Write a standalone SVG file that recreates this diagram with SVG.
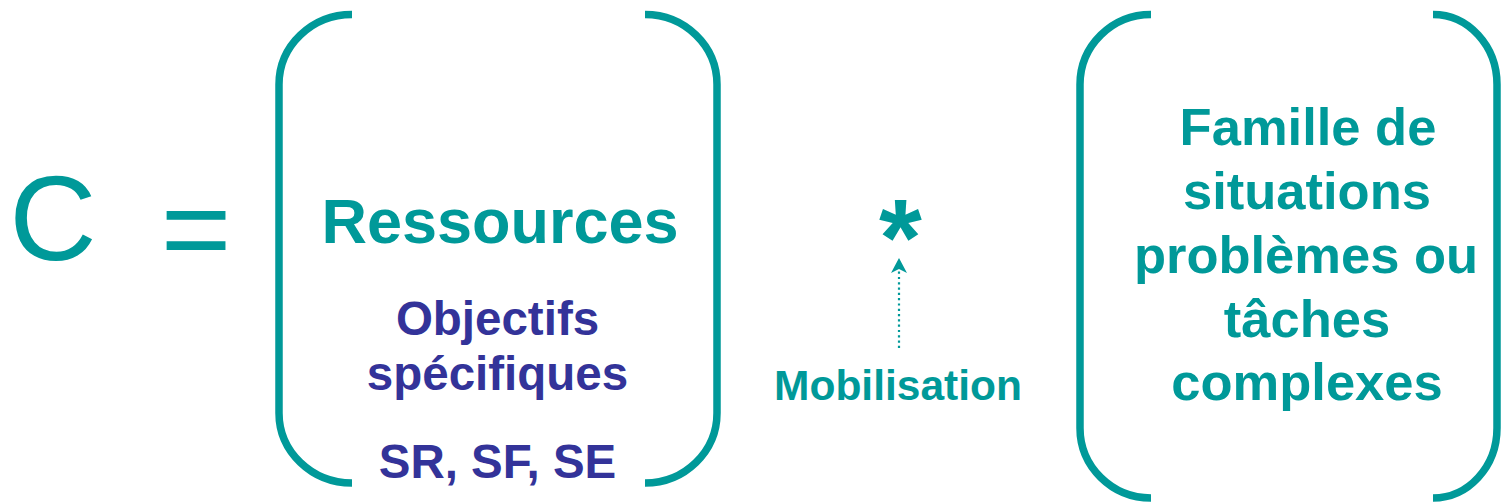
<svg xmlns="http://www.w3.org/2000/svg" width="1502" height="502" viewBox="0 0 1502 502">
  <defs>
    <style>
      .teal { fill: #009999; }
      .blue { fill: #333399; }
      .t { font-family: "Liberation Sans", Arial, sans-serif; text-anchor: middle; }
      .b { font-weight: bold; }
      .brk { fill: none; stroke: #009999; stroke-width: 7.5; }
    </style>
    <marker id="arr" viewBox="0 0 15 16" refX="14" refY="8" markerWidth="15" markerHeight="16" markerUnits="userSpaceOnUse" orient="auto">
      <path d="M15,8 L0,0 L4,8 L0,16 Z" fill="#009999"/>
    </marker>
  </defs>
  <rect width="1502" height="502" fill="#ffffff"/>

  <g id="formula">
    <text class="t teal" x="53" y="260" font-size="121">C</text>
    <text class="t teal" x="196" y="270" font-size="121">=</text>
  </g>

  <g id="ressources">
    <path class="brk" d="M352,14.5 A73,70 0 0 0 279,84.5 L279,413 A73,70 0 0 0 352,483"/>
    <path class="brk" d="M645,14.5 A72,70 0 0 1 717,84.5 L717,413 A72,70 0 0 1 645,483"/>
    <text class="t b teal" x="500" y="243" font-size="63">Ressources</text>
    <text class="t b blue" x="497.5" y="335" font-size="47.5">Objectifs</text>
    <text class="t b blue" x="497.5" y="390" font-size="47.5">spécifiques</text>
    <text class="t b blue" x="497.5" y="478" font-size="47.5">SR, SF, SE</text>
  </g>

  <g id="operator">
    <text class="t b teal" x="900.5" y="275" font-size="110">*</text>
  </g>

  <g id="mobilisation">
    <text class="t b teal" x="898" y="400" font-size="42.5">Mobilisation</text>
  </g>

  <g id="famille">
    <path class="brk" d="M1151,14.5 A71,70 0 0 0 1080,84.5 L1080,428 A71,70 0 0 0 1151,498"/>
    <path class="brk" d="M1433,14.5 A64,70 0 0 1 1497,84.5 L1497,428 A64,70 0 0 1 1433,498"/>
    <text class="t b teal" font-size="52.5" x="1308" y="145">Famille de</text>
    <text class="t b teal" font-size="52.5" x="1307" y="209">situations</text>
    <text class="t b teal" font-size="52.5" x="1306" y="273">problèmes ou</text>
    <text class="t b teal" font-size="52.5" x="1307" y="337">tâches</text>
    <text class="t b teal" font-size="52.5" x="1307" y="400">complexes</text>
  </g>

  <g id="connectors">
    <path d="M899,348 L899,259" fill="none" stroke="#009999" stroke-width="2.2" stroke-dasharray="2.2 3.1" marker-end="url(#arr)"/>
  </g>
</svg>
